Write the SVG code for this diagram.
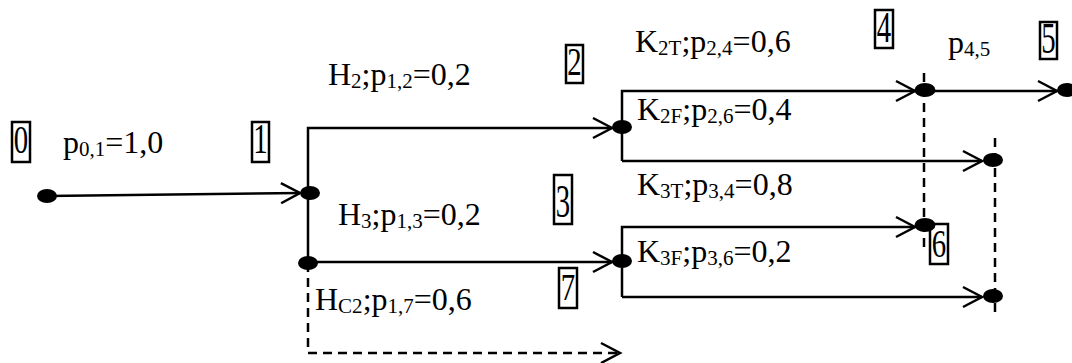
<svg xmlns="http://www.w3.org/2000/svg" width="1072" height="363" viewBox="0 0 1072 363">
<style>
.ln{stroke:#000;stroke-width:2.5;fill:none}
.da{stroke:#000;stroke-width:2.5;fill:none;stroke-dasharray:9 6}
.ar{marker-end:url(#ah)}
.dot{fill:#000}
.bx{fill:none;stroke:#000;stroke-width:2.5}
.lb{font-family:"Liberation Serif","Times New Roman",serif;font-size:32px;fill:#000}
.sb{font-size:21px}
.num{font-family:"Liberation Serif","Times New Roman",serif;font-size:32px;fill:#000;text-anchor:middle}
</style>
<defs>
<marker id="ah" markerUnits="userSpaceOnUse" markerWidth="24" markerHeight="24" refX="0" refY="0" viewBox="-22 -12 24 24" orient="auto" overflow="visible">
<path d="M-19,-10 L0,0 L-19,10" fill="none" stroke="#000" stroke-width="2.5"/>
</marker>
</defs>
<rect width="1072" height="363" fill="#fff"/>
<g id="connectors">
<line class="ln ar" x1="47" y1="196" x2="300" y2="193"/>
<polyline class="ln ar" points="308,263 308,128 612,128"/>
<line class="ln ar" x1="308" y1="262" x2="612" y2="262"/>
<polyline class="da ar" points="308,263 308,353 620,353"/>
<polyline class="ln ar" points="622,161 622,91 915,91"/>
<line class="ln ar" x1="622" y1="161" x2="982" y2="161"/>
<line class="ln ar" x1="925" y1="91" x2="1057" y2="91"/>
<polyline class="ln ar" points="622,297 622,227 915,227"/>
<line class="ln ar" x1="622" y1="297" x2="982" y2="297"/>
<text class="lb" x="63" y="153">p<tspan class="sb" dy="3">0,1</tspan><tspan dy="-3">=1,0</tspan></text>
<text class="lb" x="328" y="85">H<tspan class="sb" dy="3">2</tspan><tspan dy="-3">;p</tspan><tspan class="sb" dy="3">1,2</tspan><tspan dy="-3">=0,2</tspan></text>
<text class="lb" x="338" y="225">H<tspan class="sb" dy="3">3</tspan><tspan dy="-3">;p</tspan><tspan class="sb" dy="3">1,3</tspan><tspan dy="-3">=0,2</tspan></text>
<text class="lb" x="315" y="310">H<tspan class="sb" dy="3">C2</tspan><tspan dy="-3">;p</tspan><tspan class="sb" dy="3">1,7</tspan><tspan dy="-3">=0,6</tspan></text>
<text class="lb" x="635" y="52">K<tspan class="sb" dy="3">2T</tspan><tspan dy="-3">;p</tspan><tspan class="sb" dy="3">2,4</tspan><tspan dy="-3">=0,6</tspan></text>
<text class="lb" x="637" y="120">K<tspan class="sb" dy="3">2F</tspan><tspan dy="-3">;p</tspan><tspan class="sb" dy="3">2,6</tspan><tspan dy="-3">=0,4</tspan></text>
<text class="lb" x="637" y="195">K<tspan class="sb" dy="3">3T</tspan><tspan dy="-3">;p</tspan><tspan class="sb" dy="3">3,4</tspan><tspan dy="-3">=0,8</tspan></text>
<text class="lb" x="637" y="262">K<tspan class="sb" dy="3">3F</tspan><tspan dy="-3">;p</tspan><tspan class="sb" dy="3">3,6</tspan><tspan dy="-3">=0,2</tspan></text>
<text class="lb" x="948" y="53">p<tspan class="sb" dy="3">4,5</tspan></text>
</g>
<g id="node-0">
<ellipse class="dot" cx="47" cy="196" rx="10" ry="7"/>
<rect class="bx" x="12" y="122" width="18" height="40"/>
<text class="num" transform="translate(21,153) scale(0.9,1.25)">0</text>
</g>
<g id="node-1">
<ellipse class="dot" cx="310" cy="193" rx="10" ry="7"/>
<ellipse class="dot" cx="308" cy="263" rx="10" ry="7"/>
<rect class="bx" x="252" y="122" width="17" height="40"/>
<text class="num" transform="translate(260.5,153) scale(0.9,1.3)">1</text>
</g>
<g id="node-2">
<ellipse class="dot" cx="622" cy="127" rx="10" ry="7"/>
<rect class="bx" x="566" y="45" width="17" height="38"/>
<text class="num" transform="translate(574.5,75) scale(0.9,1.25)">2</text>
</g>
<g id="node-3">
<ellipse class="dot" cx="622" cy="261" rx="10" ry="7"/>
<rect class="bx" x="554" y="175" width="18" height="49"/>
<text class="num" transform="translate(563,217) scale(0.9,1.45)">3</text>
</g>
<g id="node-4">
<line class="da" x1="924" y1="73" x2="924" y2="247"/>
<ellipse class="dot" cx="925" cy="90" rx="10.5" ry="7"/>
<ellipse class="dot" cx="925" cy="225" rx="10.5" ry="7"/>
<rect class="bx" x="875" y="10" width="18" height="38"/>
<text class="num" transform="translate(884,42) scale(0.9,1.4)">4</text>
</g>
<g id="node-5">
<ellipse class="dot" cx="1067" cy="90" rx="10" ry="7"/>
<rect class="bx" x="1040" y="22" width="17" height="37"/>
<text class="num" transform="translate(1048.5,53) scale(0.9,1.4)">5</text>
</g>
<g id="node-6">
<line class="da" x1="995" y1="138" x2="995" y2="313"/>
<ellipse class="dot" cx="993" cy="160" rx="10" ry="7"/>
<ellipse class="dot" cx="993" cy="296" rx="10" ry="7"/>
<rect class="bx" x="930" y="224" width="18" height="40"/>
<text class="num" transform="translate(939,257) scale(0.9,1.25)">6</text>
</g>
<g id="node-7">
<rect class="bx" x="559" y="268" width="18" height="40"/>
<text class="num" transform="translate(568,300) scale(0.9,1.2)">7</text>
</g>
</svg>
